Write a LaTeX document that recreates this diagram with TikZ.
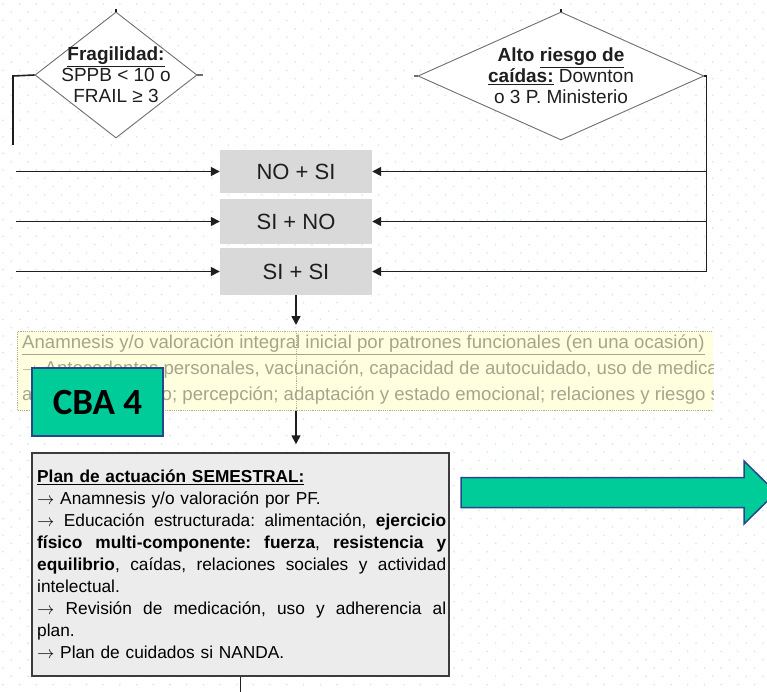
\documentclass[tikz,border=0pt]{standalone}
\usepackage{fontspec}
\setmainfont{Liberation Sans}
\newfontfamily\cbafont{Carlito}
\usetikzlibrary{shapes.geometric, arrows.meta, positioning, calc}
\definecolor{mydark}{RGB}{30,30,30}
\definecolor{mgframe}{RGB}{110,110,110}
\definecolor{combogray}{RGB}{217,217,217}
\definecolor{planfill}{RGB}{236,236,236}
\definecolor{planframe}{RGB}{60,60,60}
\definecolor{cbagreen}{RGB}{0,204,153}
\definecolor{cbablue}{RGB}{40,70,140}
\definecolor{anamfill}{RGB}{255,255,224}
\definecolor{anamframe}{RGB}{175,175,140}
\definecolor{anamtext}{RGB}{165,165,140}
\definecolor{griddot}{RGB}{205,230,242}
\newcommand{\jline}[1]{\leavevmode\hbox to 409pt{\frenchspacing\spaceskip=0.28em plus 1.5em minus 0.05em\relax #1}}
\tikzset{
  decision/.style={diamond, draw=mgframe, fill=white, line width=0.9pt, inner sep=0pt},
  dectext/.style={align=center, font=\fontsize{19}{21}\selectfont, text=mydark},
  combo/.style={rectangle, fill=combogray, minimum width=152pt,
    font=\fontsize{22}{24}\selectfont, text=mydark},
  anambox/.style={rectangle, fill=anamfill, draw=anamframe, densely dotted,
    line width=1.2pt, anchor=north west, minimum width=760pt, minimum height=79pt},
  planbox/.style={rectangle, fill=planfill, draw=planframe, line width=1.5pt,
    minimum width=417pt, minimum height=223pt},
  cbabox/.style={rectangle, fill=cbagreen, draw=cbablue, line width=1.5pt,
    minimum width=131pt, minimum height=68pt, text=black,
    font=\cbafont\bfseries\fontsize{37}{40}\selectfont},
  bigarrow/.style={fill=cbagreen, draw=cbablue, line width=1.5pt, line join=miter},
  arrow/.style={-{Triangle[length=9pt, width=9pt]}, line width=1.6pt, color=mydark},
  line/.style={line width=1.6pt, color=mydark}
}

\begin{document}
\begin{tikzpicture}[x=1pt, y=-1pt]
  \useasboundingbox (0,0) rectangle (767,692);
  \clip (0,0) rectangle (767,692);

  % Background dots
  \foreach \j in {0,...,83} {
    \pgfmathsetmacro{\xoff}{mod(\j,2)*8.3}
    \foreach \i in {0,...,46}
      \fill[griddot] (\i*16.7+\xoff+3, \j*8.3+4) circle (0.9pt);
  }

  % Decisions
  \node[decision, minimum width=162pt, minimum height=126pt] (fragil) at (116,75) {};
  \node[dectext] at (fragil) {\textbf{\underline{Fragilidad:}}\\SPPB < 10 o\\FRAIL ≥ 3};
  \node[decision, minimum width=286pt, minimum height=128pt] (caidas) at (561,76) {};
  \node[dectext] at (caidas) {\textbf{Alto \underline{riesgo de}}\\\textbf{\underline{caídas:}} Downton\\o 3 P. Ministerio};

  % Stubs from outside
  \draw[line, line width=1.2pt] (fragil.north) -- ++(0,-3);
  \draw[line, line width=1.2pt] (caidas.north) -- ++(0,-3);
  \draw[mgframe, line width=1.2pt] (fragil.east) -- ++(6,0);
  \draw[mgframe, line width=1.2pt] (caidas.west) -- ++(-4,0);

  % Combinations
  \node[combo, minimum height=43pt] (nosi) at (296,171.5) {NO + SI};
  \node[combo, minimum height=45pt] (sino) at (296,221.5) {SI + NO};
  \node[combo, minimum height=47pt] (sisi) at (296,271.5) {SI + SI};

  % Left branch
  \coordinate (lcorner) at (13,76);
  \coordinate (lend) at (13,145);
  \coordinate (lstart) at (16,0);
  \draw[line] (fragil.west) -- (lcorner) -- (lend);
  \foreach \b in {nosi,sino,sisi}
    \draw[arrow] (lstart |- \b) -- (\b.west);

  % Right branch
  \coordinate (rcorner) at ($(caidas.east)+(2,0)$);
  \draw[line] (caidas.east) -- (rcorner) -- (rcorner |- sisi);
  \foreach \b in {nosi,sino,sisi}
    \draw[arrow] (rcorner |- \b) -- (\b.east);

  % Initial assessment (faded)
  \begin{scope}
    \clip (10,325) rectangle (713,415);
    \node[anambox] (anam) at (17,331) {};
    \draw[anamframe, densely dotted, line width=0.8pt] (sisi.south |- anam.north) -- (sisi.south |- anam.south);
    \node[anchor=north west, align=left, inner sep=0pt, text=anamtext,
      font=\fontsize{18.6}{26}\selectfont] (anamtext) at (22,335)
      {\underline{Anamnesis y/o valoración integral inicial por patrones funcionales (en una ocasión)}\\
       $\rightarrow$ Antecedentes personales, vacunación, capacidad de autocuidado, uso de medicación\\
       actividad y reposo; percepción; adaptación y estado emocional; relaciones y riesgo social};
  \end{scope}

  \draw[arrow, shorten >=6pt] (sisi.south) -- (sisi.south |- anam.north);

  % CBA label
  \node[cbabox] (cba) at (97.5,402) {CBA 4};

  % Semestral plan
  \node[planbox] (plan) at (240.5,564.5) {};
  \draw[arrow, shorten >=8pt] (sisi.south |- anam.south) -- (sisi.south |- plan.north);
  \node[anchor=north west, text width=409pt, align=left, inner sep=0pt, text=black,
    font=\fontsize{17.3}{21.9}\selectfont] (plantext) at (37,470)
    {\textbf{\underline{Plan de actuación SEMESTRAL:}}\\
     $\rightarrow$ Anamnesis y/o valoración por PF.\\
     \jline{$\rightarrow$ Educación estructurada: alimentación, \textbf{ejercicio}}\\
     \jline{\textbf{físico multi-componente: fuerza}, \textbf{resistencia y}}\\
     \jline{\textbf{equilibrio}, caídas, relaciones sociales y actividad}\\
     intelectual.\\
     \jline{$\rightarrow$ Revisión de medicación, uso y adherencia al}\\
     plan.\\
     $\rightarrow$ Plan de cuidados si NANDA.};
  \coordinate (pend) at (plan.south |- 0,700);
  \draw[line] (plan.south) -- (pend);

  % Big arrow
  \draw[bigarrow] (461,477.5) -- (744,477.5) -- (744,461) -- (776,492.5)
    -- (744,524) -- (744,507.5) -- (461,507.5) -- cycle;
\end{tikzpicture}
\end{document}
